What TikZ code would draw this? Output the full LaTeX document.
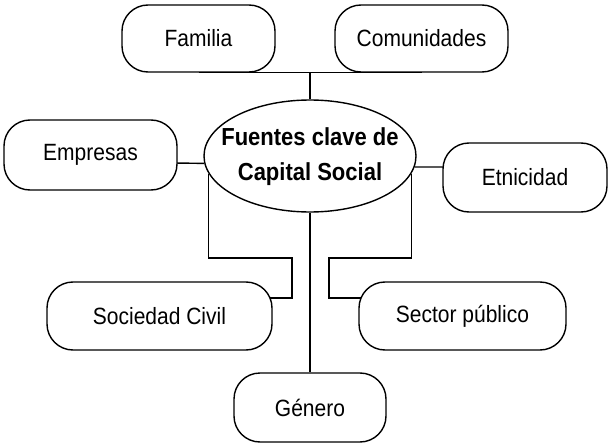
\documentclass[tikz,border=0pt]{standalone}
\usepackage{fontspec}
\setmainfont{Liberation Sans}
\usetikzlibrary{shapes.geometric,backgrounds}
\newcommand{\tallt}[1]{\scalebox{1}[1.12]{#1}}
\begin{document}
\begin{tikzpicture}[x=1pt,y=-1pt,
  box/.style={draw=black, line width=1.4pt, fill=white, rounded corners=26pt, inner sep=0pt, font=\fontsize{21}{25}\selectfont},
  conn/.style={draw=black, line width=1.4pt},
  hub/.style={ellipse, draw=black, line width=1.4pt, fill=white, inner sep=0pt, minimum width=212pt, minimum height=112pt},
  hubtxt/.style={font=\bfseries\fontsize{22}{26}\selectfont, anchor=base, inner sep=0pt}]
\useasboundingbox (0,0) rectangle (611,444);
\node[box, minimum width=153pt, minimum height=67pt] (fam) at (198.5,38.5) {\tallt{Familia}};
\node[box, minimum width=173pt, minimum height=67pt] (com) at (421.5,38.5) {\tallt{Comunidades}};
\node[box, minimum width=173pt, minimum height=70pt] (emp) at (90.5,155) {\tallt{Empresas}};
\node[box, minimum width=164pt, minimum height=69pt] (etn) at (525,177.5) {\tallt{Etnicidad}};
\node[box, minimum width=225pt, minimum height=68pt] (soc) at (159.5,316) {\tallt{Sociedad Civil}};
\node[box, minimum width=207pt, minimum height=68pt] (sec) at (462.5,316) {\tallt{Sector público}};
\node[box, minimum width=152pt, minimum height=69pt] (gen) at (310,407.5) {\tallt{Género}};
\node[hub] (ell) at (310,156) {};
\node[hubtxt] (t1) at (310,145) {\tallt{Fuentes clave de}};
\node[hubtxt] (t2) at (310,180) {\tallt{Capital Social}};
\coordinate (sl) at (292,258);
\coordinate (sr) at (329,258);
\begin{pgfonlayer}{background}
\draw[conn] (fam.south) -- (com.south);
\draw[conn] (ell.north) -- (ell.north |- fam.south);
\draw[conn] ([xshift=-4pt,yshift=-8pt]emp.east) -- (ell.184);
\draw[conn] (ell.354) -- ([xshift=4pt,yshift=10.5pt]etn.west);
\draw[conn] (ell.190) |- (sl) |- ([xshift=-5pt,yshift=18pt]soc.east);
\draw[conn] (ell.350) |- (sr) |- ([xshift=5pt,yshift=18pt]sec.west);
\draw[conn] (ell.south) -- (gen.north);
\end{pgfonlayer}
\end{tikzpicture}
\end{document}
